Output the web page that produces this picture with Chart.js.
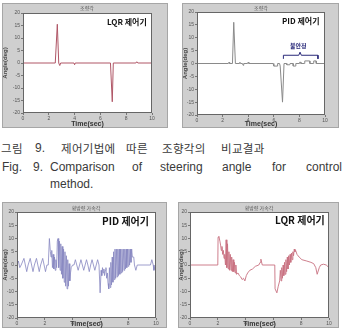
<!DOCTYPE html>
<html>
<head>
<meta charset="utf-8">
<script src="https://cdn.jsdelivr.net/npm/chart.js@4.4.0/dist/chart.umd.min.js"></script>
<style>
    body { margin: 0; width: 345px; height: 332px; background: #fff; position: relative; overflow: hidden; font-family: "Liberation Sans", Arial, sans-serif; }
    .frame { position: absolute; background: #cfcfcf; border: 1px solid #a6a6a6; box-sizing: border-box; }
    canvas { position: absolute; }
    .ptitle { position: absolute; font-family: "Noto Sans CJK KR"; font-size: 5px; line-height: 5px; color: #555; white-space: nowrap; transform: translateX(-50%); }
    .tag { position: absolute; font-family: "Noto Sans CJK KR"; font-weight: bold; color: #111; white-space: nowrap; line-height: 1; }
    .note { position: absolute; font-family: "Noto Sans CJK KR"; font-weight: bold; color: #2a2a7a; font-size: 6px; line-height: 6px; white-space: nowrap; }
    .cap { position: absolute; color: #3a3a3a; white-space: nowrap; font-size: 12px; line-height: 12px; }
    .ko { font-family: "Noto Sans CJK KR"; font-size: 11.5px; line-height: 12px; letter-spacing: 0.3px; }
</style>
</head>
<body>

<div class="frame" style="left:2px;top:3px;width:166px;height:125px"></div>
<canvas id="c1" width="166" height="125" style="left:2px;top:3px"></canvas>
<div class="ptitle" style="left:87px;top:5px">조향각</div>
<div class="tag" style="left:107px;top:18px;font-size:8px">LQR 제어기</div>

<div class="frame" style="left:182px;top:3px;width:157px;height:125px"></div>
<canvas id="c2" width="157" height="125" style="left:182px;top:3px"></canvas>
<div class="ptitle" style="left:261px;top:5px">조향각</div>
<div class="tag" style="left:282px;top:17px;font-size:8px">PID 제어기</div>
<div class="note" style="left:290px;top:43px">불안정</div>

<div class="frame" style="left:2px;top:202px;width:165px;height:126px"></div>
<canvas id="c3" width="165" height="126" style="left:2px;top:202px"></canvas>
<div class="ptitle" style="left:86px;top:205px">횡방향 가속각</div>
<div class="tag" style="left:102px;top:216px;font-size:10px">PID 제어기</div>

<div class="frame" style="left:178px;top:202px;width:161px;height:126px"></div>
<canvas id="c4" width="161" height="126" style="left:178px;top:202px"></canvas>
<div class="ptitle" style="left:259px;top:205px">횡방향 가속각</div>
<div class="tag" style="left:275px;top:215px;font-size:10px">LQR 제어기</div>

<div class="cap ko" style="left:1px;top:142px">그림</div>
<div class="cap" style="left:35px;top:142px">9.</div>
<div class="cap ko" style="left:61px;top:142px">제어기법에</div>
<div class="cap ko" style="left:126px;top:142px">따른</div>
<div class="cap ko" style="left:162px;top:142px">조향각의</div>
<div class="cap ko" style="left:221px;top:142px">비교결과</div>

<div class="cap" style="left:2px;top:161px">Fig.</div>
<div class="cap" style="left:33px;top:161px">9.</div>
<div class="cap" style="left:50px;top:161px">Comparison</div>
<div class="cap" style="left:132px;top:161px">of</div>
<div class="cap" style="left:160px;top:161px">steering</div>
<div class="cap" style="left:222px;top:161px">angle</div>
<div class="cap" style="left:272px;top:161px">for</div>
<div class="cap" style="left:306px;top:161px">control</div>
<div class="cap" style="left:50px;top:178px">method.</div>

<script>
const xTicks = [0, 2, 4, 6, 8, 10];
const yTicks = [-20, -15, -10, -5, 0, 5, 10, 15, 20];

// steering angle, LQR
const lqrSteerT = [0, 2.5, 2.66, 2.77, 2.85, 2.92, 3.95, 4.0, 4.05, 6.78, 6.92, 7.0, 8.75, 8.82, 8.9, 10];
const lqrSteerV = [0, 0, 15.5, 0, -1, 0, 0, -0.7, 0, 0, -15.5, 0, 0, 0.5, 0, 0];

// steering angle, PID
const pidSteerT = [0, 2.45, 2.5, 2.55, 2.77, 2.87, 3.0, 3.3, 3.35, 3.4, 3.55, 3.6, 3.65, 3.95, 4.0, 4.05,
    5.95, 6.0, 6.25, 6.3, 6.45, 6.5, 6.68, 6.8, 7.0, 7.02, 7.25, 7.27, 7.5, 7.52, 7.7, 7.72,
    8.0, 8.02, 8.1, 8.12, 8.4, 8.42, 8.8, 8.82, 9.1, 9.12, 9.3, 9.32, 10];
const pidSteerV = [0, 0, 0.5, 0, 0, 16, 0, 0, 0.5, 0, 0, -0.7, 0, 0, 0.5, 0,
    0, -1, -1, 0, 0, -1, -15, 0, 0, -0.5, -0.5, 0, 0, -1, -1, 0,
    0, 0.5, 0.5, 0, 0, 1, 1, 0, 0, 1, 1, 0, 0];

// "unstable" bracket on the PID steering plot
const bracketT = [6.75, 6.75, 7.95, 8.05, 8.15, 9.45, 9.45];
const bracketV = [1.8, 3.2, 3.2, 4.4, 3.2, 3.2, 1.8];

// lateral plot, PID
const pidLatT = [
    0, 0.1, 0.2, 0.3, 0.5, 0.6, 0.7, 0.8, 0.95, 1.05, 1.15, 1.25, 1.4, 1.5, 1.6, 1.7, 1.85, 1.95, 2.05, 2.15, 2.25,
    2.33, 2.4, 2.45, 2.5, 2.55, 2.6, 2.65, 2.7, 2.75, 2.8, 2.85, 2.9,
    2.95, 3.0, 3.05, 3.1, 3.15, 3.2, 3.25, 3.3, 3.35, 3.4, 3.45, 3.5, 3.55, 3.6, 3.65, 3.7, 3.75, 3.8, 3.85, 3.9, 4.0,
    4.1, 4.2, 4.3, 4.4, 4.5, 4.6, 4.7, 4.8, 4.9, 5.0, 5.1, 5.2, 5.3, 5.4, 5.5, 5.6, 5.7, 5.8, 5.9,
    5.98, 6.05, 6.1, 6.15, 6.2, 6.25, 6.3, 6.35, 6.4, 6.45, 6.5, 6.55,
    6.6, 6.65, 6.7, 6.75, 6.8, 6.85, 6.9, 6.95, 7.0, 7.05, 7.1, 7.15, 7.2, 7.25, 7.3, 7.35, 7.4,
    7.45, 7.5, 7.55, 7.6, 7.65, 7.7, 7.75, 7.8, 7.85, 7.9, 7.95, 8.0, 8.05, 8.1, 8.15, 8.2,
    8.25, 8.3, 8.4, 8.45, 8.55, 8.65, 9.6, 9.7, 9.8, 9.85, 9.95, 10
];
const pidLatV = [
    0, 1.5, -1, 0, 2.5, 0, -2.5, 0, 2.5, 0, -2.5, 0, 2.5, 0, -2.5, 0, 2.5, 0, -2.5, 0, 0,
    10, 5, 3, 5.5, -1, 4, -1.5, 3, -2, 2, -1, 9,
    10, -1, 9, -2, 8, -3.5, 7, -5, 6, -6.5, 5, -8, 3.5, -9, 2, -8, 0.5, -6, -3, -1, 0,
    0, 2, 0, -2, 0, 2, 0, -2, 0, 2, 0, -2.5, 0, 2, 0, -2, 0, 2, 0,
    -10.5, -2, -4, -1, -3, -1.5, -4, -2, -1, -5, -3, -7,
    -9, -1, -8.5, 1, -7.5, 3, -6.5, 5, -5.5, 6, -5, 6, -4.5, 6, -4, 6, -3.5,
    6, -3, 6, -2.5, 6, -2, 6, -1.5, 6, -1, 6, -0.5, 6, 0, 6, 1,
    6, 3, 3, 0, -2, 0, 0, 2, 0, -2, 0, 0
];

// lateral plot, LQR
const lqrLatT = [
    0, 2.0, 2.02, 2.08, 2.15, 2.2, 2.25, 2.3, 2.35, 2.4, 2.45, 2.5, 2.55,
    2.6, 2.65, 2.7, 2.75, 2.8, 2.85, 2.9, 2.95, 3.0, 3.05, 3.1, 3.15, 3.2, 3.25, 3.3, 3.35,
    3.45, 3.55, 3.65, 3.75, 3.85, 3.95, 4.05, 4.15, 4.3, 4.5, 4.7, 4.95, 5.05, 5.1, 5.2, 6.1,
    6.12, 6.25, 6.35, 6.45, 6.5, 6.55, 6.6, 6.65, 6.7, 6.75, 6.8, 6.85, 6.9, 6.95, 7.0, 7.05,
    7.1, 7.15, 7.2, 7.25, 7.3, 7.35, 7.4, 7.45, 7.5,
    7.55, 7.6, 7.7, 7.85, 8.05, 8.4, 8.7, 8.9, 9.05, 9.15, 9.3, 9.4, 9.6, 9.8, 10
];
const lqrLatV = [
    0, 0, 10.5, 10.8, 9, 7.5, 5.5, 7, 4, 5.5, 2.5, 4, 0,
    9.5, -1, 8, -1.5, 5, -2, 4, -2, 3, -2.5, 2, -2.5, 1, -3, 0, -3.5,
    -3, -4, -4.5, -5.5, -5, -6, -4, -3, -2, -1.5, -0.5, 0, 1, 2.2, 0, 0,
    -9, -10.5, -8, -6, -2, -6, -1, -5, 0, -4, 1, -3.5, 2, -2.5, 3, -1.5,
    3.5, 0, 4, 1, 4.5, 2, 5, 3.5, 6,
    5, 5.5, 4, 3, 2, 1.5, 1, 0.5, -1, -3.5, -1, 0, 0.3, 0, -1
];

const points = (ts, vs) => ts.map((t, i) => ({ x: t, y: vs[i] }));

const plotBox = {
    id: 'plotBox',
    beforeDatasetsDraw(chart) {
        const { ctx, chartArea: a } = chart;
        ctx.save();
        ctx.fillStyle = '#fff';
        ctx.fillRect(a.left, a.top, a.right - a.left, a.bottom - a.top);
        ctx.restore();
    },
    afterDraw(chart) {
        const { ctx, chartArea: a } = chart;
        ctx.save();
        ctx.strokeStyle = '#666';
        ctx.lineWidth = 1;
        ctx.strokeRect(a.left + 0.5, a.top + 0.5, a.right - a.left - 1, a.bottom - a.top - 1);
        ctx.restore();
    }
};

function scales(yWidth, xHeight) {
    const tickFont = { size: 5, family: 'Liberation Sans' };
    return {
        x: {
            type: 'linear', min: 0, max: 10,
            afterBuildTicks: s => { s.ticks = xTicks.map(v => ({ value: v })); },
            afterFit: s => { s.height = xHeight; },
            ticks: { font: tickFont, color: '#555', padding: 1, autoSkip: false, maxRotation: 0 },
            grid: { drawOnChartArea: false, tickLength: 2, color: '#777' },
            border: { display: false },
            title: { display: true, text: 'Time(sec)', font: { size: 7, weight: 'bold', family: 'Liberation Sans' }, color: '#333', padding: 0 }
        },
        y: {
            min: -20, max: 20,
            afterBuildTicks: s => { s.ticks = yTicks.map(v => ({ value: v })); },
            afterFit: s => { s.width = yWidth; },
            ticks: { font: tickFont, color: '#555', padding: 1, autoSkip: false },
            grid: { drawOnChartArea: false, tickLength: 2, color: '#777' },
            border: { display: false },
            title: { display: true, text: 'Angle(deg)', font: { size: 6, weight: 'bold', family: 'Liberation Sans' }, color: '#444', padding: 0 }
        }
    };
}

function drawPanel(id, sets, pad, yWidth, xHeight) {
    return new Chart(document.getElementById(id), {
        type: 'line',
        data: {
            datasets: sets.map(s => ({
                data: points(s.t, s.v),
                borderColor: s.color,
                borderWidth: s.width || 1,
                pointRadius: 0,
                tension: 0,
                fill: false
            }))
        },
        options: {
            responsive: false,
            animation: false,
            devicePixelRatio: 1,
            layout: { padding: pad },
            plugins: { legend: { display: false }, tooltip: { enabled: false } },
            scales: scales(yWidth, xHeight)
        },
        plugins: [plotBox]
    });
}

drawPanel('c1', [{ t: lqrSteerT, v: lqrSteerV, color: '#b05666' }],
    { left: 0, top: 10, right: 16, bottom: 0 }, 21, 15);
drawPanel('c2', [
    { t: pidSteerT, v: pidSteerV, color: '#8a8a8a' },
    { t: bracketT, v: bracketV, color: '#2a2a7a' }
], { left: 0, top: 9, right: 14, bottom: 0 }, 15, 13);
drawPanel('c3', [{ t: pidLatT, v: pidLatV, color: '#8686c0', width: 0.8 }],
    { left: 0, top: 10, right: 11, bottom: 0 }, 15, 10);
drawPanel('c4', [{ t: lqrLatT, v: lqrLatV, color: '#c87080', width: 0.9 }],
    { left: 0, top: 10, right: 10, bottom: 0 }, 12, 10);
</script>
</body>
</html>
